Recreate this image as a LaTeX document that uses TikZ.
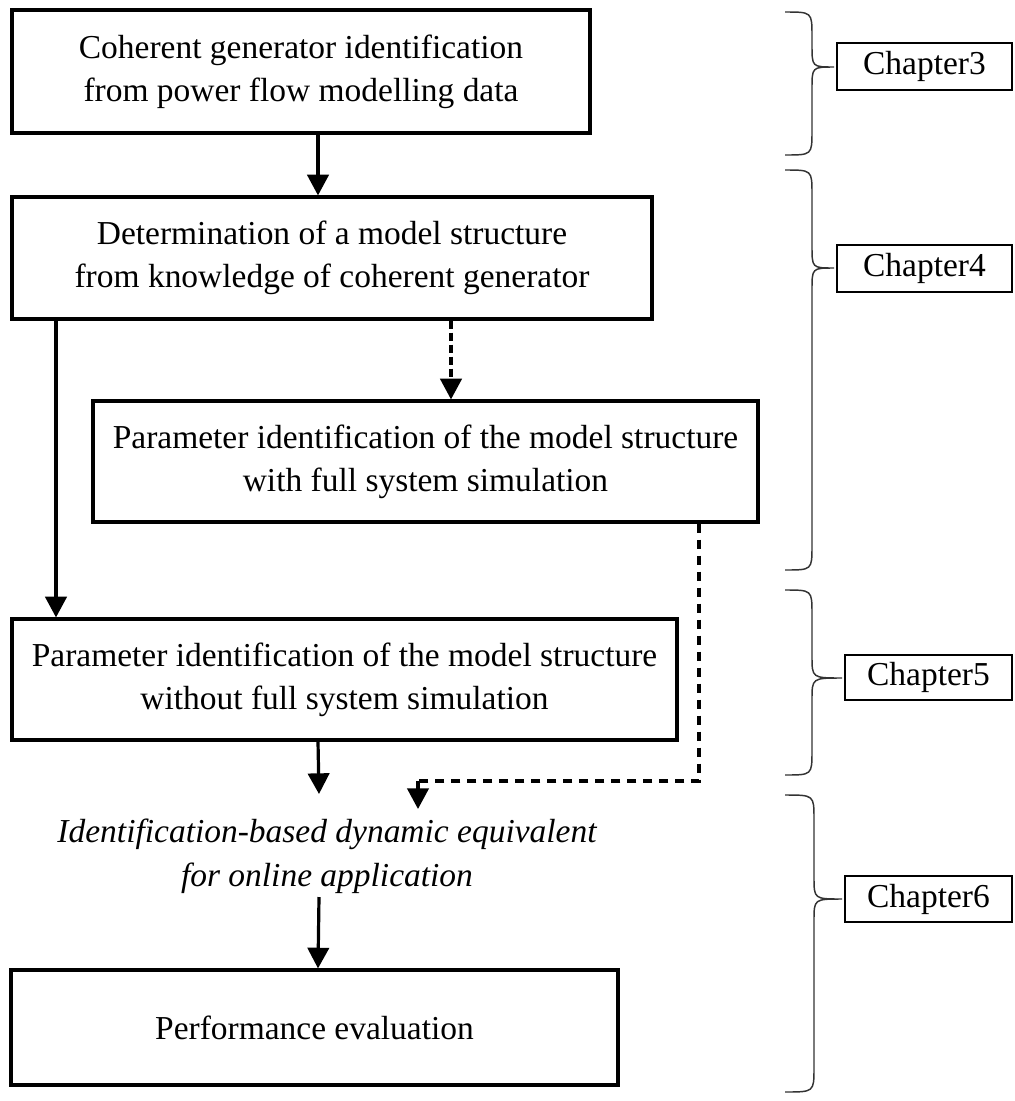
\documentclass[tikz,border=0pt]{standalone}
\usepackage{fontspec}
\setmainfont{Liberation Serif}
\usetikzlibrary{arrows.meta}

% right-hand curly brace: left end x, spine x, tip x, top y, tip y, bottom y
\newcommand{\chapterbrace}[6]{%
  \draw[bracestyle] (#1,#4) .. controls (#2,#4) .. (#2,#4+24)
    -- (#2,#5-22) .. controls (#2,#5) .. (#3,#5)
    .. controls (#2,#5) .. (#2,#5+22)
    -- (#2,#6-24) .. controls (#2,#6) .. (#1,#6);}

\begin{document}
\begin{tikzpicture}[x=0.75pt,y=-0.75pt,
  every node/.style={font=\fontsize{25.1}{32}\selectfont},
  stepbox/.style={draw,line width=2.4pt,align=center,inner sep=0pt},
  chbox/.style={draw,line width=2pt,inner sep=0pt},
  arr/.style={line width=2.4pt,-{Triangle[length=15.5pt,width=16pt]}},
  shortdash/.style={line width=2.4pt,dash pattern=on 6pt off 3pt},
  longdash/.style={line width=2.4pt,dash pattern=on 7pt off 5pt},
  bracestyle/.style={line width=1.1pt,draw=black!80}]

\useasboundingbox (0,0) rectangle (1015,1101);

% process boxes
\node[stepbox,minimum width=433.5pt,minimum height=92.25pt] (b1) at (301,71.5)
  {Coherent generator identification\\from power flow modelling data};
\node[stepbox,minimum width=480pt,minimum height=91.5pt] (b2) at (332,258)
  {Determination of a model structure\\from knowledge of coherent generator};
\node[stepbox,minimum width=498.75pt,minimum height=90.75pt] (b3) at (425.5,461.5)
  {Parameter identification of the model structure\\with full system simulation};
\node[stepbox,minimum width=498.75pt,minimum height=90.75pt] (b4) at (344.5,679.5)
  {Parameter identification of the model structure\\without full system simulation};
\node[align=center,inner sep=0pt,font=\fontsize{25.1}{33}\selectfont\itshape] (eq) at (327,856)
  {Identification-based dynamic equivalent\\for online application};
\node[stepbox,minimum width=455.25pt,minimum height=86.25pt] (b5) at (314.5,1027.5)
  {Performance evaluation};

% connector columns
\coordinate (mx) at (318,0);
\coordinate (lx) at (56,0);
\coordinate (sx) at (451,0);
\coordinate (rx) at (699,0);
\coordinate (turn) at (699,781);
\coordinate (bend) at (418,781);
\coordinate (dtip) at (418,809);

\draw[arr] (b1.south -| mx) -- (b2.north -| mx);
\draw[arr] (b2.south -| lx) -- (b4.north -| lx);
\draw[arr,shortdash] (b2.south -| sx) -- (b3.north -| sx);
\draw[longdash] (b3.south -| rx) -- (turn) -- (bend);
\draw[arr] (bend) -- (dtip);
\draw[arr] (b4.south -| mx) -- (319,794);
\draw[arr] (319,897) -- (b5.north -| mx);

% chapter labels
\node[chbox,minimum width=131.25pt,minimum height=35.25pt] (c3) at (924.5,66.5) {Chapter3};
\node[chbox,minimum width=131.25pt,minimum height=35.25pt] (c4) at (924.5,268.5) {Chapter4};
\node[chbox,minimum width=125.25pt,minimum height=33.75pt] (c5) at (928.5,677.5) {Chapter5};
\node[chbox,minimum width=125.25pt,minimum height=34.5pt] (c6) at (928.5,899) {Chapter6};

% braces
\chapterbrace{785}{812}{834}{12}{67}{155}
\chapterbrace{785}{812}{834}{170}{268}{570}
\chapterbrace{785}{812}{842}{590}{678}{775}
\chapterbrace{785}{814}{842}{795}{899}{1092}
\end{tikzpicture}
\end{document}
